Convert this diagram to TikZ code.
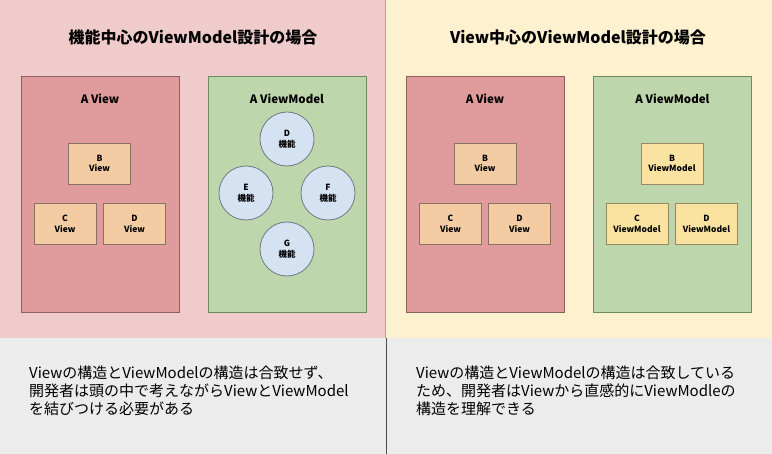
\documentclass[tikz,border=0pt]{standalone}
\usepackage{fontspec}
\setmainfont{Noto Sans CJK JP}
\definecolor{pinkbg}{HTML}{EFCCCB}
\definecolor{creambg}{HTML}{FDF1CF}
\definecolor{graybg}{HTML}{ECECEC}
\definecolor{redfill}{HTML}{E09C9C}
\definecolor{redline}{HTML}{8E5F5D}
\definecolor{greenfill}{HTML}{BED6AB}
\definecolor{greenline}{HTML}{6E8A60}
\definecolor{orangefill}{HTML}{F3CCA3}
\definecolor{orangeline}{HTML}{8A7262}
\definecolor{yellowfill}{HTML}{FAE3A1}
\definecolor{yellowline}{HTML}{978860}
\definecolor{bluefill}{HTML}{D5E2F1}
\definecolor{blueline}{HTML}{6F7A84}
\tikzset{
  container/.style={draw, line width=0.8pt, inner sep=0pt},
  viewbox/.style={container, fill=redfill, draw=redline},
  vmbox/.style={container, fill=greenfill, draw=greenline},
  smallv/.style={draw=orangeline, fill=orangefill, line width=0.8pt, minimum width=62pt, minimum height=41pt, align=center, font=\bfseries\fontsize{8.5}{10.5}\selectfont, inner sep=0pt},
  smallvm/.style={smallv, draw=yellowline, fill=yellowfill},
  feat/.style={circle, draw=blueline, fill=bluefill, line width=0.8pt, minimum size=54pt, align=center, font=\bfseries\fontsize{8.5}{11}\selectfont, inner sep=0pt},
  boxlabel/.style={font=\bfseries\fontsize{11.5}{13}\selectfont, inner sep=0pt},
  titletext/.style={font=\bfseries\fontsize{16}{19}\selectfont, inner sep=0pt},
  bodytext/.style={font=\fontsize{15}{18}\selectfont, align=left, anchor=north west, inner sep=0pt}
}
\begin{document}
\begin{tikzpicture}[x=1pt, y=-1pt]
\useasboundingbox (0,0) rectangle (772,454);
% backgrounds
\fill[pinkbg] (0,0) rectangle (386,338);
\fill[creambg] (386,0) rectangle (772,338);
\fill[graybg] (0,338) rectangle (772,454);
\draw[gray!70, line width=0.6pt] (385.5,0) -- (385.5,338);
\draw[black!70, line width=1pt] (386,338) -- (386,454);
% titles
\node[titletext] (t1) at (193,37) {機能中心のViewModel設計の場合};
\node[titletext] (t2) at (578,37) {View中心のViewModel設計の場合};
% left panel containers
\node[viewbox, minimum width=158pt, minimum height=236pt] (lv) at (100,194) {};
\node[vmbox, minimum width=158pt, minimum height=236pt] (lvm) at (287,194) {};
\node[boxlabel] (lvl) at (100,99) {A View};
\node[boxlabel] (lvml) at (287,99) {A ViewModel};
\node[smallv] (lb) at (99.5,163.5) {B\\View};
\node[smallv] (lc) at (65,224) {C\\View};
\node[smallv] (ld) at (134.5,224) {D\\View};
\node[feat] (fd) at (287,139) {D\\機能};
\node[feat] (fe) at (246,193) {E\\機能};
\node[feat] (ff) at (328,193) {F\\機能};
\node[feat] (fg) at (287,249) {G\\機能};
% right panel containers
\node[viewbox, minimum width=158pt, minimum height=236pt] (rv) at (485,194) {};
\node[vmbox, minimum width=158pt, minimum height=236pt] (rvm) at (672.5,194) {};
\node[boxlabel] (rvl) at (485,99) {A View};
\node[boxlabel] (rvml) at (672.5,99) {A ViewModel};
\node[smallv] (rb) at (485,163.5) {B\\View};
\node[smallv] (rc) at (450.5,224) {C\\View};
\node[smallv] (rd) at (519.5,224) {D\\View};
\node[smallvm] (mb) at (672,163.5) {B\\ViewModel};
\node[smallvm] (mc) at (637,224) {C\\ViewModel};
\node[smallvm] (md) at (706.5,224) {D\\ViewModel};
% bottom texts
\node[bodytext] (bl) at (29,366) {Viewの構造とViewModelの構造は合致せず、\\開発者は頭の中で考えながらViewとViewModel\\を結びつける必要がある};
\node[bodytext] (br) at (416,366) {Viewの構造とViewModelの構造は合致している\\ため、開発者はViewから直感的にViewModleの\\構造を理解できる};
\end{tikzpicture}
\end{document}
